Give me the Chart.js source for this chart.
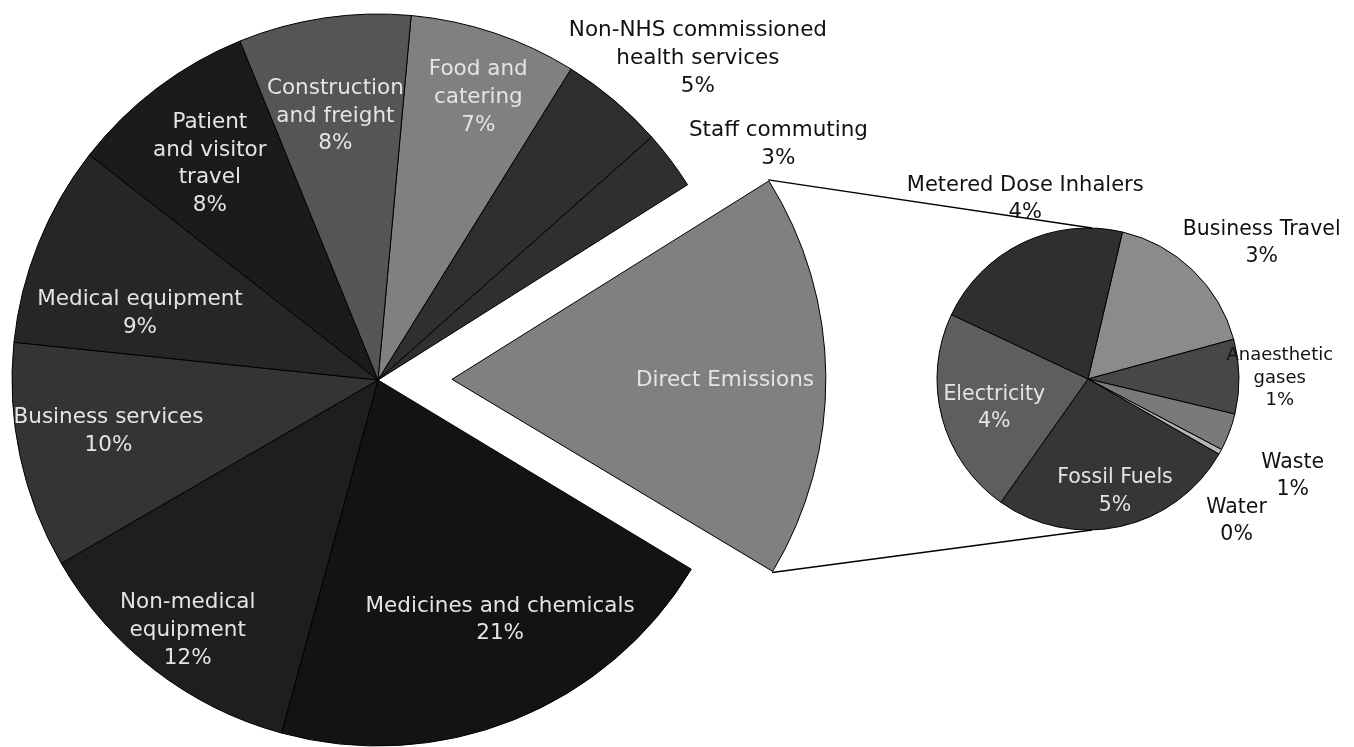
<!DOCTYPE html>
<html>
<head>
<meta charset="utf-8">
<script src="https://cdn.jsdelivr.net/npm/chart.js@4.4.0/dist/chart.umd.min.js"></script>
<style>
  html, body { margin: 0; padding: 0; background: #fff; overflow: hidden; }
  #wrap { position: relative; width: 1354px; height: 747px; }
  #wrap canvas { position: absolute; left: 0; top: 0; }
</style>
</head>
<body>
<div id="wrap">
  <canvas id="mainPie" width="1354" height="747"></canvas>
  <canvas id="subPie" width="1354" height="747"></canvas>
</div>
<script>
// main pie, clockwise starting just right of 12 o'clock
const mainLabels = ['Food and catering', 'Non-NHS commissioned health services', 'Staff commuting',
  'Direct Emissions', 'Medicines and chemicals', 'Non-medical equipment', 'Business services',
  'Medical equipment', 'Patient and visitor travel', 'Construction and freight'];
const mainValues = [7.4, 4.6, 2.6, 17.6, 20.6, 12.4, 10.0, 8.9, 8.3, 7.6];

// breakdown of the direct emissions slice
const directLabels = ['Business Travel', 'Anaesthetic gases', 'Waste', 'Water', 'Fossil Fuels',
  'Electricity', 'Metered Dose Inhalers'];
const directValues = [3.0, 1.4, 0.7, 0.1, 4.65, 3.9, 3.8];

const explodeIndex = 3;
const FONT = "'DejaVu Sans', sans-serif";

// styling
const mainColors = ['#808080', '#2f2f2f', '#2f2f2f', '#808080', '#131313', '#1e1e1e',
  '#343434', '#262626', '#1b1b1b', '#555555'];
const directColors = ['#8b8b8b', '#474747', '#7a7a7a', '#b4b4b4', '#363636', '#5e5e5e', '#2f2f2f'];

const mainText = {
  lines: [['Food and', 'catering'], ['Non-NHS commissioned', 'health services'], ['Staff commuting'],
    ['Direct Emissions'], ['Medicines and chemicals'], ['Non-medical', 'equipment'],
    ['Business services'], ['Medical equipment'], ['Patient', 'and visitor', 'travel'],
    ['Construction', 'and freight']],
  showPct: [true, true, true, false, true, true, true, true, true, true],
  // [radius factor, angle nudge in degrees]
  pos: [[0.82, 1], [1.24, 4.7], [1.27, 6.4], [0.746, 0.7], [0.735, -5.2], [0.86, -0.4],
    [0.75, 1.2], [0.675, -6.4], [0.748, -0.8], [0.73, -0.7]],
  colors: ['#e4e4e4', '#111', '#111', '#e4e4e4', '#e4e4e4', '#e4e4e4', '#e4e4e4', '#e4e4e4',
    '#e4e4e4', '#e4e4e4'],
  size: [21.5, 21.5, 21.5, 21.5, 21.5, 21.5, 21.5, 21.5, 21.5, 21.5],
  lineHeight: [28, 28, 28, 28, 27.5, 28, 28, 28, 27.5, 27.5]
};

const directText = {
  lines: [['Business Travel'], ['Anaesthetic', 'gases'], ['Waste'], ['Water'], ['Fossil Fuels'],
    ['Electricity'], ['Metered Dose Inhalers']],
  showPct: [true, true, true, true, true, true, true],
  pos: [[1.46, 8], [1.27, 0.6], [1.5, 4.7], [1.36, 14.8], [0.77, -1], [0.65, -2.6], [1.26, 6.5]],
  colors: ['#111', '#111', '#111', '#111', '#e4e4e4', '#e4e4e4', '#111'],
  size: [20.5, 18, 20.5, 20.5, 20.5, 20.5, 21],
  lineHeight: [27, 22.5, 27, 27, 28, 27, 27]
};

const sliceLabels = {
  id: 'sliceLabels',
  afterDatasetsDraw(chart, args, opts) {
    const ctx = chart.ctx;
    const meta = chart.getDatasetMeta(0);
    const vals = chart.data.datasets[0].data;
    ctx.save();
    ctx.textAlign = 'center';
    ctx.textBaseline = 'middle';
    meta.data.forEach((arc, i) => {
      const p = arc.getProps(['x', 'y', 'startAngle', 'endAngle', 'outerRadius']);
      const off = (arc.options.offset || 0) / 4;
      const mid = (p.startAngle + p.endAngle) / 2;
      const cx = p.x + Math.cos(mid) * off;
      const cy = p.y + Math.sin(mid) * off;
      const [rf, nudge] = opts.pos[i];
      const a = mid + nudge * Math.PI / 180;
      const lx = cx + Math.cos(a) * p.outerRadius * rf;
      const ly = cy + Math.sin(a) * p.outerRadius * rf;
      const lines = opts.lines[i].slice();
      if (opts.showPct[i]) lines.push(Math.round(vals[i]) + '%');
      ctx.font = opts.size[i] + 'px ' + FONT;
      ctx.fillStyle = opts.colors[i];
      const lh = opts.lineHeight[i];
      lines.forEach((t, k) => ctx.fillText(t, lx, ly + (k - (lines.length - 1) / 2) * lh));
    });
    ctx.restore();
  }
};

const mainChart = new Chart(document.getElementById('mainPie'), {
  type: 'pie',
  data: {
    labels: mainLabels,
    datasets: [{
      data: mainValues,
      backgroundColor: mainColors,
      borderColor: '#000',
      borderWidth: 1,
      offset: ctx => ctx.dataIndex === explodeIndex ? 296 : 0
    }]
  },
  options: {
    responsive: false,
    animation: false,
    rotation: 5.2,
    radius: 366,
    layout: { padding: { left: 0, right: 598, top: 13, bottom: 0 } },
    events: [],
    plugins: {
      legend: { display: false },
      tooltip: { enabled: false },
      sliceLabels: mainText
    }
  },
  plugins: [sliceLabels]
});

// lines from the exploded slice to the breakdown pie
const connector = {
  id: 'connector',
  afterDatasetsDraw(chart) {
    const arc = mainChart.getDatasetMeta(0).data[explodeIndex];
    const p = arc.getProps(['x', 'y', 'startAngle', 'endAngle', 'outerRadius', 'circumference']);
    const off = (arc.options.offset || 0) / 4;
    const mid = (p.startAngle + p.endAngle) / 2;
    const fix = 1 - Math.sin(Math.min(Math.PI, p.circumference));
    const R = p.outerRadius + off * fix;
    const ax = p.x + Math.cos(mid) * off;
    const ay = p.y + Math.sin(mid) * off;
    const sub = chart.getDatasetMeta(0).data[0];
    const s = sub.getProps(['x', 'y', 'outerRadius']);
    const ctx = chart.ctx;
    ctx.save();
    ctx.strokeStyle = '#000';
    ctx.lineWidth = 1.4;
    ctx.beginPath();
    ctx.moveTo(ax + Math.cos(p.startAngle) * R, ay + Math.sin(p.startAngle) * R);
    ctx.lineTo(s.x + 4, s.y - s.outerRadius);
    ctx.moveTo(ax + Math.cos(p.endAngle) * R, ay + Math.sin(p.endAngle) * R);
    ctx.lineTo(s.x + 4, s.y + s.outerRadius);
    ctx.stroke();
    ctx.restore();
  }
};

new Chart(document.getElementById('subPie'), {
  type: 'pie',
  data: {
    labels: directLabels,
    datasets: [{
      data: directValues,
      backgroundColor: directColors,
      borderColor: '#000',
      borderWidth: 1
    }]
  },
  options: {
    responsive: false,
    animation: false,
    rotation: 13.2,
    radius: 151,
    layout: { padding: { left: 937, right: 115, top: 228, bottom: 217 } },
    events: [],
    plugins: {
      legend: { display: false },
      tooltip: { enabled: false },
      sliceLabels: directText
    }
  },
  plugins: [connector, sliceLabels]
});
</script>
</body>
</html>
